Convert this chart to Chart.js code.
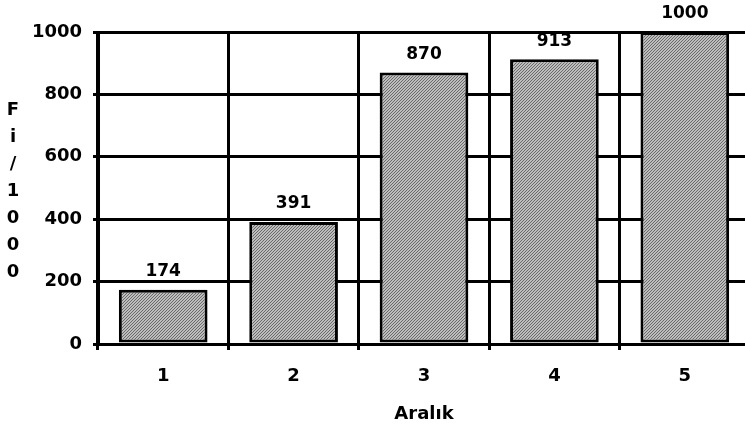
<!DOCTYPE html>
<html>
<head>
<meta charset="utf-8">
<script src="https://cdn.jsdelivr.net/npm/chart.js@4"></script>
<style>
  html, body { margin: 0; padding: 0; background: #fff; overflow: hidden; }
  #wrap { width: 750px; height: 428px; }
</style>
</head>
<body>
<div id="wrap"><canvas id="chart"></canvas></div>
<script>
// data
const categories = ["1", "2", "3", "4", "5"];
const values = [174, 391, 870, 913, 1000];
const yTitle = ["F", "i", "/", "1", "0", "0", "0"];
const xTitle = "Aralık";

const FONT = "'DejaVu Sans', 'Liberation Sans', sans-serif";

// hatched grey fill like the scanned bars
function hatch() {
  const c = document.createElement("canvas");
  c.width = 3; c.height = 3;
  const g = c.getContext("2d");
  g.fillStyle = "#bdbdbd";
  g.fillRect(0, 0, 3, 3);
  g.fillStyle = "#6a6a6a";
  for (let i = 0; i < 3; i++) g.fillRect(i, 2 - i, 1, 1);
  return g.createPattern(c, "repeat");
}

// numbers above each bar
const valueLabels = {
  id: "valueLabels",
  afterDatasetsDraw(chart) {
    const ctx = chart.ctx;
    const meta = chart.getDatasetMeta(0);
    ctx.save();
    ctx.font = "bold 17px " + FONT;
    ctx.fillStyle = "#000";
    ctx.textAlign = "center";
    ctx.textBaseline = "middle";
    meta.data.forEach((bar, i) => {
      ctx.fillText(values[i], bar.x, bar.y - 18);
    });
    ctx.restore();
  }
};

// stacked vertical y title
const stackedTitle = {
  id: "stackedTitle",
  afterDraw(chart) {
    const ctx = chart.ctx;
    ctx.save();
    ctx.font = "bold 18px " + FONT;
    ctx.fillStyle = "#000";
    ctx.textAlign = "center";
    ctx.textBaseline = "middle";
    yTitle.forEach((ch, i) => ctx.fillText(ch, 13, 110 + i * 27));
    ctx.restore();
  }
};

new Chart(document.getElementById("chart"), {
  type: "bar",
  data: {
    labels: categories,
    datasets: [{
      data: values,
      backgroundColor: hatch(),
      borderColor: "#000",
      borderWidth: 3,
      borderSkipped: false,
      barPercentage: 0.68,
      categoryPercentage: 1
    }]
  },
  options: {
    responsive: true,
    maintainAspectRatio: false,
    animation: false,
    layout: { padding: { top: 32, right: 0, left: 0, bottom: 0 } },
    plugins: { legend: { display: false }, tooltip: { enabled: false } },
    scales: {
      x: {
        afterFit(s) { s.height = 84; },
        grid: { color: "#000", lineWidth: 3, tickLength: 6, offset: true },
        border: { color: "#000", width: 3 },
        ticks: { color: "#000", padding: 16, font: { family: FONT, size: 18, weight: "bold" } },
        title: {
          display: true,
          text: xTitle,
          color: "#000",
          padding: { top: 0, bottom: 3 },
          font: { family: FONT, size: 18, weight: "bold" }
        }
      },
      y: {
        min: 0,
        max: 1000,
        afterFit(s) { s.width = 98; },
        grid: { color: "#000", lineWidth: 3, tickLength: 5 },
        border: { color: "#000", width: 3 },
        ticks: {
          stepSize: 200,
          color: "#000",
          padding: 11,
          callback: v => String(v),
          font: { family: FONT, size: 18, weight: "bold" }
        }
      }
    }
  },
  plugins: [valueLabels, stackedTitle]
});
</script>
</body>
</html>
